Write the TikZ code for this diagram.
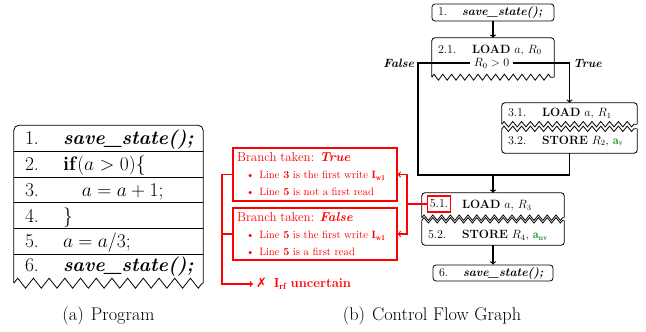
\RequirePackage{fix-cm}
\documentclass[tikz,border=0pt]{standalone}
\usepackage{amsmath}
\usepackage{fontspec}
\usepackage{tikz}
\usetikzlibrary{arrows}
\usetikzlibrary{positioning}
\usetikzlibrary{decorations.pathmorphing}

\newfontfamily\symfont{DejaVu Sans}
\definecolor{storegreen}{RGB}{40,150,40}
\newcommand{\prognum}[1]{\makebox[38pt][l]{#1}}
\newcommand{\cfgnum}[1]{\makebox[34pt][l]{#1}}
\newcommand{\callsave}{\textbf{\textit{save\_state();}}}

\begin{document}
\begin{tikzpicture}[x=1pt, y=-1pt]
	\useasboundingbox (0,0) rectangle (646,332);
	\tikzset{row/.style = {minimum width=189pt, minimum height=25.7pt, text width=167pt, inner xsep=11pt, inner ysep=0pt, align=left, text height=16pt, text depth=3pt, font=\fontsize{19.5}{22}\selectfont}}
	\tikzset{tbl/.style = {line width=0.8pt}}
	\tikzset{bigzig/.style = {decorate, decoration={zigzag, segment length=15.7pt, amplitude=5pt}}}
	\tikzset{smallzig/.style = {decorate, decoration={zigzag, segment length=8.8pt, amplitude=2.7pt}}}
	\tikzset{cfgbox/.style = {draw, rounded corners=3pt, line width=0.8pt, inner xsep=6pt, inner ysep=0pt, align=left, font=\fontsize{12}{14}\selectfont}}
	\tikzset{half/.style = {inner xsep=6pt, inner ysep=0pt, align=left, font=\fontsize{12}{14}\selectfont}}
	\tikzset{blk/.style = {line width=0.8pt, rounded corners=3pt}}
	\tikzset{flow/.style = {line width=1.2pt}}
	\tikzset{edge/.style = {->, > = to, line width=1.2pt}}
	\tikzset{branch/.style = {draw=red, text=red, line width=1.1pt, text width=156pt, inner xsep=4pt, align=left, font=\fontsize{10.7}{17}\selectfont}}
	\tikzset{redline/.style = {red, line width=1.2pt}}
	\tikzset{rededge/.style = {->, > = to, red, line width=1.2pt}}
	\tikzset{subcap/.style = {font=\fontsize{18.3}{20}\selectfont}}
	% program
	\node[row] (r1) at (108.5,138.35) {\prognum{1.}\callsave};
	\node[row] (r2) at (108.5,164.2) {\prognum{2.}\textbf{if}$(a>0)\{$};
	\node[row] (r3) at (108.5,189.7) {\prognum{3.}\hspace*{19pt}$a=a+1;$};
	\node[row] (r4) at (108.5,215.5) {\prognum{4.}$\}$};
	\node[row] (r5) at (108.5,241.3) {\prognum{5.}$a=a/3;$};
	\node[row, minimum height=28.7pt, text depth=9.7pt] (r6) at (108.5,268.65) {\prognum{6.}\callsave};
	\draw[tbl, rounded corners=5pt] (r6.south west) |- (r1.north) -| (r6.south east);
	\draw[tbl, bigzig] (r6.south west) -- (r6.south east);
	\draw[tbl] (r1.south west) -- (r1.south east);
	\draw[tbl] (r2.south west) -- (r2.south east);
	\draw[tbl] (r3.south west) -- (r3.south east);
	\draw[tbl] (r4.south west) -- (r4.south east);
	\draw[tbl] (r5.south west) -- (r5.south east);
	% control flow graph
	\node[cfgbox, text width=110pt, minimum height=17pt] (n1) at (493,12.5) {\makebox[24pt][l]{1.}\callsave};
	\node[minimum width=122pt, minimum height=39pt] (b2) at (493,57.5) {};
	\node[half, text width=110pt] (n21) at (493,50) {\cfgnum{2.1.}\textbf{LOAD} $a$, $R_0$};
	\node[half, inner xsep=4pt] (cond) at (491.5,63) {$R_0>0$};
	\node[half, text width=123pt, minimum height=21pt] (n31) at (569.5,113.5) {\cfgnum{3.1.}\textbf{LOAD} $a$, $R_1$};
	\node[half, text width=123pt, minimum height=24pt] (n32) at (569.5,141) {\cfgnum{3.2.}\textbf{STORE} $R_2$, \textcolor{storegreen}{$\mathbf{a}_{\mathbf{v}}$}};
	\node[half, text width=130pt, minimum height=24.5pt] (n51) at (493,205.25) {\cfgnum{}\textbf{LOAD} $a$, $R_3$};
	\node[half, text width=130pt, minimum height=24.5pt, text height=13pt, text depth=2pt] (n52) at (493,232.75) {\cfgnum{5.2.}\textbf{STORE} $R_4$, \textcolor{storegreen}{$\mathbf{a}_{\mathbf{nv}}$}};
	\node[half, draw=red, line width=1.1pt, inner xsep=2pt, minimum height=16pt] (hl) at (439,204) {5.1.};
	\node[cfgbox, text width=108pt, minimum height=16pt] (n6) at (493,273) {\makebox[24pt][l]{6.}\callsave};
	% block outlines
	\draw[blk] (b2.south west) |- (b2.north) -| (b2.south east);
	\draw[tbl, smallzig, decoration={amplitude=3pt}] (b2.south west) -- (b2.south east);
	\draw[blk] (n31.south west) |- (n31.north) -| (n31.south east);
	\draw[tbl, smallzig] (n31.south west) -- (n31.south east);
	\draw[blk] (n32.north west) |- (n32.south) -| (n32.north east);
	\draw[tbl, smallzig] (n32.north west) -- (n32.north east);
	\draw[blk] (n51.south west) |- (n51.north) -| (n51.south east);
	\draw[tbl, smallzig] (n51.south west) -- (n51.south east);
	\draw[blk] (n52.north west) |- (n52.south) -| (n52.north east);
	\draw[tbl, smallzig] (n52.north west) -- (n52.north east);
	% edges
	\coordinate (joinL) at (418,175);
	\coordinate (join) at (493,175);
	\draw[edge] (n1.south) -- (b2.north);
	\draw[edge] (cond.east) -| node[pos=0.5, right, font=\fontsize{12}{14}\selectfont] {\textbf{\textit{True}}} (n31.north);
	\draw[flow] (cond.west) -| node[pos=0.5, left, font=\fontsize{12}{14}\selectfont] {\textbf{\textit{False}}} (joinL) -- (join);
	\draw[flow] (n32.south) |- (join);
	\draw[edge] (join) -- (n51.north);
	\draw[edge] (n52.south) -- (n6.north);
	% branch notes
	\node[branch, minimum height=53pt] (bt) at (315,174.5) {{\fontsize{13}{17}\selectfont Branch taken: \textbf{\textit{True}}}\\
		\hspace*{9pt}\textbullet\hspace{5pt}Line \textbf{3} is the first write $\mathbf{I}_{\mathbf{w1}}$\\
		\hspace*{9pt}\textbullet\hspace{5pt}Line \textbf{5} is not a first read};
	\node[branch, minimum height=52pt] (bf) at (315,234) {{\fontsize{13}{17}\selectfont Branch taken: \textbf{\textit{False}}}\\
		\hspace*{9pt}\textbullet\hspace{5pt}Line \textbf{5} is the first write $\mathbf{I}_{\mathbf{w1}}$\\
		\hspace*{9pt}\textbullet\hspace{5pt}Line \textbf{5} is a first read};
	\node[anchor=west, text=red, inner xsep=3pt, font=\fontsize{13}{15}\selectfont] (irf) at (253,284) {{\symfont ✗}\hspace{7pt}$\mathbf{I}_{\mathbf{rf}}$ \textbf{uncertain}};
	\coordinate (redR) at (407,204);
	\coordinate (redL) at (222,284);
	\draw[redline] (hl.west) -- (redR);
	\draw[rededge] (redR) |- (bt.east);
	\draw[rededge] (redR) |- (bf.east);
	\draw[rededge] (bt.west) -| (redL) -- (irf.west);
	\draw[redline] (bf.west) -- (bf.west -| redL);
	% captions
	\node[subcap] (capA) at (108.5,316) {(a)\hspace{7pt}Program};
	\node[subcap] (capB) at (432,316) {(b)\hspace{7pt}Control Flow Graph};
\end{tikzpicture}
\end{document}
